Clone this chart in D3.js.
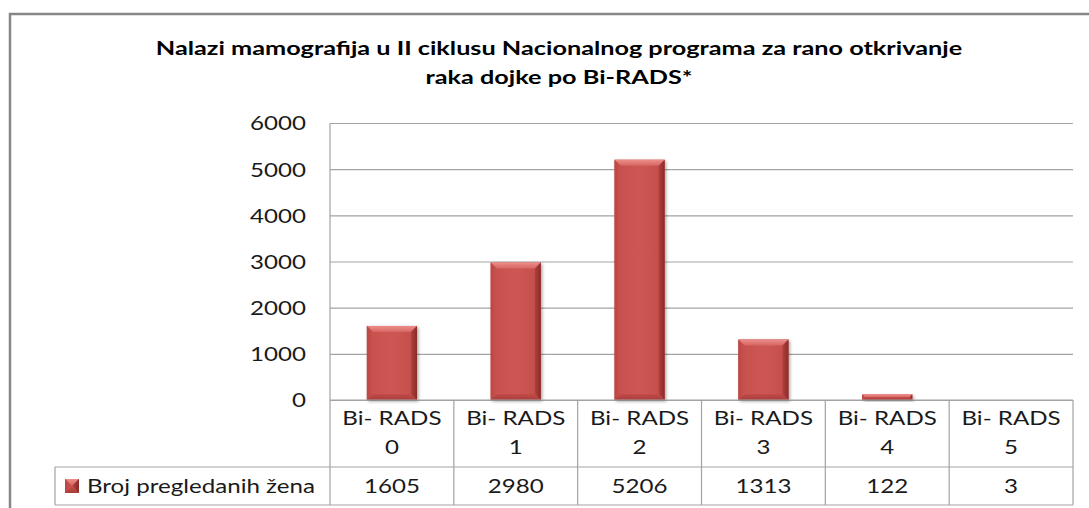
<!DOCTYPE html>
<html>
<head>
<meta charset="utf-8">
<script src="https://cdn.jsdelivr.net/npm/d3@7"></script>
<style>
  html, body { margin: 0; padding: 0; background: #fff; }
  svg { display: block; }
  text { font-family: Lato, "Open Sans", sans-serif; }
</style>
</head>
<body>
<svg id="chart" width="1089" height="508"></svg>
<script>
// ---- data ----
const titleLines = [
  "Nalazi mamografija u II ciklusu Nacionalnog programa za rano otkrivanje",
  "raka dojke po Bi-RADS*"
];
const categories = ["Bi- RADS 0", "Bi- RADS 1", "Bi- RADS 2", "Bi- RADS 3", "Bi- RADS 4", "Bi- RADS 5"];
const values = [1605, 2980, 5206, 1313, 122, 3];
const yTicks = [0, 1000, 2000, 3000, 4000, 5000, 6000];
const seriesName = "Broj pregledanih žena";

// ---- layout ----
const W = 1089, H = 508;
const plot = { left: 330, right: 1073, top: 123, bottom: 400 };
const tableRow1Bottom = 467, tableBottom = 505, legendLeft = 55;
const SX = 1.27; // horizontal stretch of text (source image is stretched)
const SX_TITLE = 1.33;
const textColor = "#1a1a1a";
const lineColor = "#a3a3a3";

const svg = d3.select("#chart");

// defs
const defs = svg.append("defs");
const f = defs.append("filter").attr("id", "shadow").attr("x", "-30%").attr("y", "-30%").attr("width", "160%").attr("height", "160%");
f.append("feDropShadow").attr("dx", 1.5).attr("dy", 1.5).attr("stdDeviation", 1.6).attr("flood-color", "#000").attr("flood-opacity", 0.35);

function hGrad(id, stops) {
  const g = defs.append("linearGradient").attr("id", id).attr("x1", 0).attr("x2", 1).attr("y1", 0).attr("y2", 0);
  stops.forEach(s => g.append("stop").attr("offset", s[0]).attr("stop-color", s[1]));
}
function vGrad(id, stops) {
  const g = defs.append("linearGradient").attr("id", id).attr("x1", 0).attr("x2", 0).attr("y1", 0).attr("y2", 1);
  stops.forEach(s => g.append("stop").attr("offset", s[0]).attr("stop-color", s[1]));
}
hGrad("face", [[0, "#c64f4c"], [0.5, "#cd5754"], [1, "#c24d4a"]]);
vGrad("topBevel", [[0, "#ec8f8b"], [1, "#d76662"]]);
hGrad("rightBevel", [[0, "#b0403d"], [1, "#8a2b29"]]);
hGrad("leftBevel", [[0, "#b94744"], [1, "#c9524f"]]);
vGrad("bottomBevel", [[0, "#c14b48"], [1, "#a93d3a"]]);

// frame
svg.append("rect")
  .attr("x", 10).attr("y", 14).attr("width", 1200).attr("height", 700)
  .attr("fill", "#fff").attr("stroke", "#878787").attr("stroke-width", 2.5);

// helper for stretched text
function stretchedText(sel, x, y, anchor, sx) {
  return sel.attr("x", 0).attr("y", 0)
    .attr("text-anchor", anchor)
    .attr("transform", `translate(${x},${y}) scale(${sx || SX},1)`);
}

// title
const title = svg.append("g");
titleLines.forEach((t, i) => {
  stretchedText(title.append("text").text(t), 559, 55 + i * 29, "middle", SX_TITLE)
    .attr("font-size", 19).attr("font-weight", "bold").attr("fill", "#000");
});

// scales
const x = d3.scaleBand().domain(categories).range([plot.left, plot.right]).padding(0);
const y = d3.scaleLinear().domain([0, 6000]).range([plot.bottom, plot.top]);

// grid + y labels via axis
const yAxis = d3.axisLeft(y).tickValues(yTicks).tickSize(-(plot.right - plot.left)).tickPadding(0).tickFormat(d3.format("d"));
const gy = svg.append("g").attr("transform", `translate(${plot.left},0)`).call(yAxis);
gy.select(".domain").remove();
gy.selectAll(".tick line").attr("stroke", lineColor).attr("stroke-width", 1.2);
gy.selectAll(".tick text")
  .attr("x", 0).attr("dy", null)
  .attr("dominant-baseline", "central")
  .attr("transform", `translate(-24,0) scale(${SX},1)`)
  .attr("font-size", 19).attr("fill", textColor)
  .attr("font-family", "Lato, 'Open Sans', sans-serif");

// plot left border
svg.append("line")
  .attr("x1", plot.left).attr("x2", plot.left)
  .attr("y1", plot.top).attr("y2", tableRow1Bottom)
  .attr("stroke", lineColor).attr("stroke-width", 1.2);

// bars
const barW = x.bandwidth() * 0.405;
function bevelBar(g, bx, by, bw, bh) {
  const b = Math.min(6, bh / 2, bw / 2);
  g.append("rect").attr("x", bx).attr("y", by).attr("width", bw).attr("height", bh)
    .attr("fill", "url(#face)").attr("filter", "url(#shadow)");
  const poly = pts => g.append("polygon").attr("points", pts.map(p => p.join(",")).join(" "));
  poly([[bx, by], [bx + bw, by], [bx + bw - b, by + b], [bx + b, by + b]]).attr("fill", "url(#topBevel)");
  poly([[bx + bw, by], [bx + bw, by + bh], [bx + bw - b, by + bh - b], [bx + bw - b, by + b]]).attr("fill", "url(#rightBevel)");
  poly([[bx, by], [bx + b, by + b], [bx + b, by + bh - b], [bx, by + bh]]).attr("fill", "url(#leftBevel)");
  poly([[bx, by + bh], [bx + b, by + bh - b], [bx + bw - b, by + bh - b], [bx + bw, by + bh]]).attr("fill", "url(#bottomBevel)");
}
const bars = svg.append("g");
categories.forEach((c, i) => {
  const v = values[i];
  const bx = x(c) + (x.bandwidth() - barW) / 2;
  const by = y(v);
  const bh = y(0) - y(v);
  if (bh >= 0.5) bevelBar(bars.append("g"), bx, by, barW, bh);
});

// data table
const table = svg.append("g");
[[plot.left, plot.bottom], [legendLeft, tableRow1Bottom], [legendLeft, tableBottom]].forEach(([x0, yy]) => {
  table.append("line").attr("x1", x0).attr("x2", plot.right).attr("y1", yy).attr("y2", yy)
    .attr("stroke", lineColor).attr("stroke-width", 1.2);
});
categories.forEach((c, i) => {
  table.append("line").attr("x1", x(c) + x.bandwidth()).attr("x2", x(c) + x.bandwidth())
    .attr("y1", plot.bottom).attr("y2", tableBottom)
    .attr("stroke", lineColor).attr("stroke-width", 1.2);
});
table.append("line").attr("x1", legendLeft).attr("x2", legendLeft)
  .attr("y1", tableRow1Bottom).attr("y2", tableBottom)
  .attr("stroke", lineColor).attr("stroke-width", 1.2);
table.append("line").attr("x1", plot.left).attr("x2", plot.left)
  .attr("y1", tableRow1Bottom).attr("y2", tableBottom)
  .attr("stroke", lineColor).attr("stroke-width", 1.2);

// category labels
categories.forEach((c, i) => {
  const k = c.lastIndexOf(" ");
  const l1 = c.slice(0, k), l2 = c.slice(k + 1);
  const cx = x(c) + x.bandwidth() / 2;
  stretchedText(table.append("text").text(l1), cx, 425, "middle").attr("font-size", 19).attr("fill", textColor);
  stretchedText(table.append("text").text(l2), cx, 454, "middle").attr("font-size", 19).attr("fill", textColor);
  stretchedText(table.append("text").text(values[i]), cx, 493, "middle").attr("font-size", 19).attr("fill", textColor);
});

// legend key + name
bevelBar(table.append("g").attr("class", "key"), 65, 479, 14, 14);
table.select(".key rect").attr("filter", null);
stretchedText(table.append("text").text(seriesName), 87, 493, "start").attr("font-size", 19).attr("fill", textColor);
</script>
</body>
</html>
